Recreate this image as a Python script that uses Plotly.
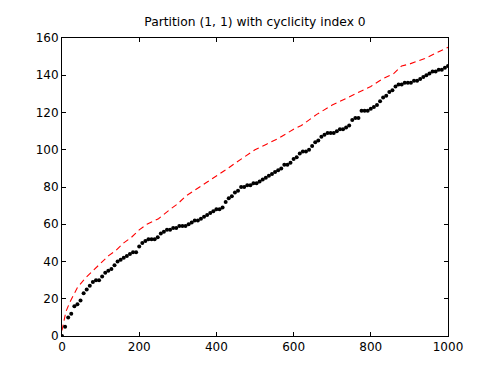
import plotly.graph_objects as go

# Black dots: sampled every 8 units
dots_x = list(range(0, 1001, 8))
dots_y = [
    0, 5, 10, 12, 16, 17, 19, 23, 25, 27,
    29, 30, 30, 32, 34, 35, 36, 38, 40, 41,
    42, 43, 44, 45, 45, 48, 50, 51, 52, 52,
    52, 53, 55, 56, 57, 57, 58, 58, 59, 59,
    59, 60, 61, 62, 62, 63, 64, 65, 66, 67,
    68, 68, 69, 72, 74, 75, 77, 78, 80, 80,
    81, 81, 82, 82, 83, 84, 85, 86, 87, 88,
    89, 90, 92, 92, 93, 95, 96, 98, 99, 99,
    100, 102, 104, 105, 107, 108, 109, 109, 109, 110,
    111, 111, 112, 113, 116, 117, 117, 121, 121, 121,
    122, 123, 124, 126, 128, 129, 131, 132, 134, 135,
    135, 136, 136, 136, 137, 137, 138, 139, 140, 141,
    142, 142, 143, 143, 144, 145,
]
assert len(dots_x) == len(dots_y)

# Red dashed curve
red_x = [0, 5, 10, 20, 30, 40, 60, 80, 100, 120, 140, 160, 180, 200, 220, 250,
         280, 300, 320, 350, 380, 400, 430, 450, 480, 500, 530, 560, 600, 620,
         660, 700, 720, 760, 800, 830, 860, 880, 900, 940, 970, 1000]
red_y = [3, 9, 13, 18, 22, 26, 31, 35, 39, 43, 46, 50, 53, 57, 60, 63,
         68, 71, 75, 79, 83, 86, 90, 93, 97, 100, 103, 106, 111, 113,
         119, 124, 126, 130, 134, 138, 141, 145, 146, 149, 152, 155]

title_text = "Partition (1, 1) with cyclicity index 0"
x_ticks = [0, 200, 400, 600, 800, 1000]
y_ticks = [0, 20, 40, 60, 80, 100, 120, 140, 160]

fig = go.Figure()
fig.add_trace(go.Scatter(
    x=red_x, y=red_y, mode="lines",
    line=dict(color="red", width=1.1, dash="6px,4px"),
    hoverinfo="skip", showlegend=False,
))
fig.add_trace(go.Scatter(
    x=dots_x, y=dots_y, mode="markers",
    marker=dict(color="black", size=4, line=dict(width=0)),
    showlegend=False,
))

axis_common = dict(
    showline=True, linecolor="black", linewidth=1, mirror="ticks",
    ticks="inside", ticklen=4, tickcolor="black", tickwidth=1,
    showgrid=False, zeroline=False,
    tickfont=dict(family="DejaVu Sans", size=12, color="black"),
)
fig.update_xaxes(range=[0, 1000], tickvals=x_ticks, **axis_common)
fig.update_yaxes(range=[0, 160], tickvals=y_ticks, **axis_common)

W, H = 490, 366
fig.update_layout(
    width=W, height=H,
    margin=dict(l=54, r=50, t=30, b=38),
    paper_bgcolor="white", plot_bgcolor="white",
    title=dict(text=title_text, x=(54 + (W - 50)) / 2 / W, xanchor="center",
               y=1 - 14 / H, yanchor="middle",
               font=dict(family="DejaVu Sans", size=12.3, color="black")),
)
fig.write_html("out.html")
